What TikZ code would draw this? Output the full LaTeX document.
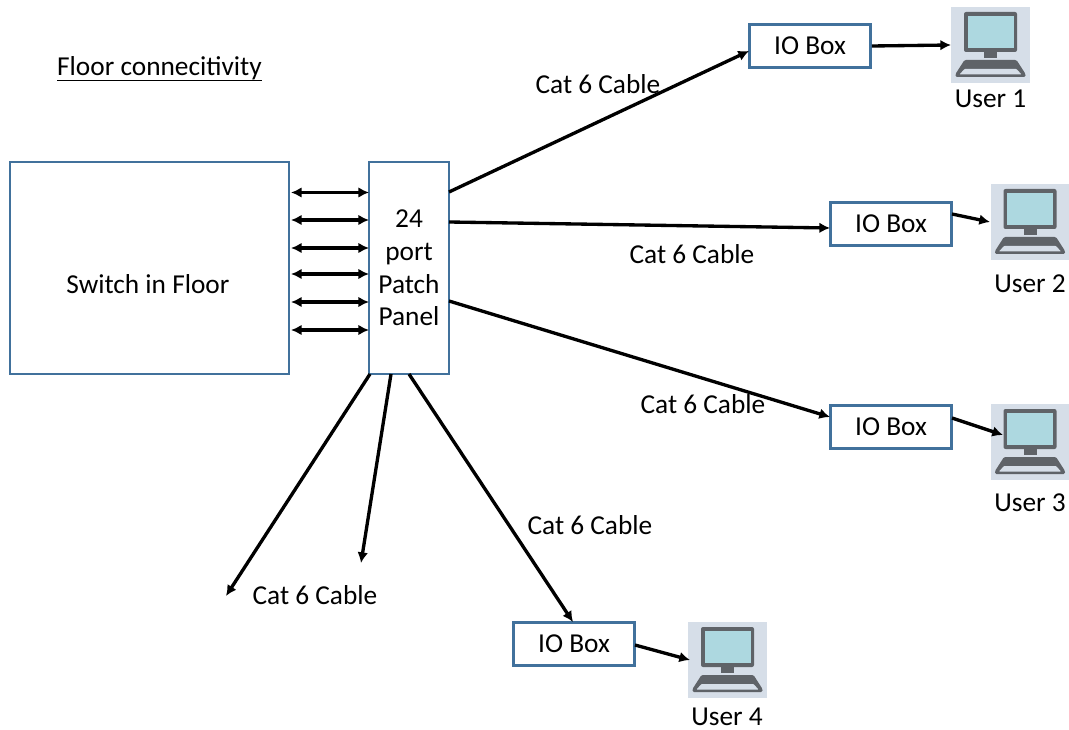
\documentclass[tikz,border=0pt]{standalone}
\usepackage{fontspec}
\setmainfont{Carlito}
\usetikzlibrary{arrows.meta}
\definecolor{boxblue}{HTML}{41719C}
\definecolor{pcbg}{HTML}{D6DEE8}
\definecolor{pcdark}{HTML}{5F6368}
\definecolor{pcscreen}{HTML}{ADD8E0}
\tikzset{
  x=0.75pt,y=-0.75pt,
  bluebox/.style={draw=boxblue,line width=1.8pt,fill=white,inner sep=0pt,align=center,font=\fontsize{20.5}{24.4}\selectfont},
  iobox/.style={bluebox,minimum width=91pt,minimum height=32pt},
  lbl/.style={inner sep=0pt,font=\fontsize{20.5}{24}\selectfont},
  wire/.style={draw=black,line width=2.5pt,-{Latex[length=8pt,width=8pt]}},
  wire2/.style={draw=black,line width=2.5pt,{Latex[length=8pt,width=8pt]}-{Latex[length=8pt,width=8pt]}},
  pcnode/.style={fill=pcbg,minimum width=59pt,minimum height=57pt,inner sep=0pt},
  pics/computer/.style={code={
    \fill[pcdark,rounded corners=1.5pt] (-26.5,-33) rectangle (26.5,7);
    \fill[pcscreen] (-23,-29) rectangle (23,3);
    \fill[pcdark] (-6.5,7) rectangle (6.5,13);
    \fill[pcdark,rounded corners=1pt] (-26,15) -- (26,15) -- (35,29) -- (35,32) -- (-35,32) -- (-35,29) -- cycle;
    \fill[pcbg,rounded corners=0.5pt] (-26,24) -- (26,24) -- (31,29.5) -- (-31,29.5) -- cycle;
  }}
}
\begin{document}
\begin{tikzpicture}
\useasboundingbox (0,0) rectangle (1069,730);
\node[lbl,anchor=center] (title) at (159.5,69) {\underline{\raisebox{0pt}[\height][2.5pt]{Floor connecitivity}}};

\node[bluebox,minimum width=209pt,minimum height=159pt] (switch) at (149.5,268) {};
\node[lbl] (swlabel) at (148,284) {Switch in Floor};
\node[bluebox,minimum width=60pt,minimum height=159pt] (panel) at (409,268) {24\\port\\Patch\\Panel};

\node[iobox] (io1) at (810,46) {IO Box};
\node[iobox] (io2) at (891,224) {IO Box};
\node[iobox] (io3) at (891,427) {IO Box};
\node[iobox] (io4) at (574,644) {IO Box};

\node[pcnode] (pc1) at (990.5,45) {};
\node[pcnode] (pc2) at (1030,222) {};
\node[pcnode] (pc3) at (1030,442) {};
\node[pcnode] (pc4) at (727.5,660) {};
\pic at (pc1) {computer};
\pic at (pc2) {computer};
\pic at (pc3) {computer};
\pic at (pc4) {computer};

\node[lbl] (u1) at (990.5,99) {User 1};
\node[lbl] (u2) at (1030,284) {User 2};
\node[lbl] (u3) at (1030,503) {User 3};
\node[lbl] (u4) at (727,717) {User 4};

\node[lbl] (c1) at (598,84) {Cat 6 Cable};
\node[lbl] (c2) at (692,254) {Cat 6 Cable};
\node[lbl] (c3) at (703,404) {Cat 6 Cable};
\node[lbl] (c4) at (590,525) {Cat 6 Cable};
\node[lbl] (c5) at (315,595) {Cat 6 Cable};

\foreach \i/\y in {1/192.5,2/220,3/248,4/274,5/302,6/330}{
  \coordinate (sw\i) at (291,\y);
  \coordinate (pp\i) at (369,\y);
  \draw[wire2] (sw\i) -- (pp\i);
}

\coordinate (pe1) at (449,192);
\coordinate (pe2) at (449,222);
\coordinate (pe3) at (449,301);
\coordinate (ps1) at (370,374);
\coordinate (ps2) at (391,374);
\coordinate (ps3) at (409,374);
\coordinate (io1w) at (749,51);
\coordinate (io2w) at (830,228);
\coordinate (io3w) at (830,417);
\coordinate (io4n) at (573,622);
\coordinate (end1) at (226,596);
\coordinate (end2) at (361,563);
\coordinate (pc1w) at (951,45);
\coordinate (pc2w) at (990,222);
\coordinate (pc3w) at (1003,435);
\coordinate (pc4w) at (690,660);
\coordinate (io2e) at (952,214);
\coordinate (io3e) at (952,418);
\coordinate (io4e) at (635,645);

\draw[wire] (pe1) -- (io1w);
\draw[wire] (pe2) -- (io2w);
\draw[wire] (pe3) -- (io3w);
\draw[wire] (ps1) -- (end1);
\draw[wire] (ps2) -- (end2);
\draw[wire] (ps3) -- (io4n);
\draw[wire] (io1.east) -- (pc1w);
\draw[wire] (io2e) -- (pc2w);
\draw[wire] (io3e) -- (pc3w);
\draw[wire] (io4e) -- (pc4w);
\end{tikzpicture}
\end{document}
